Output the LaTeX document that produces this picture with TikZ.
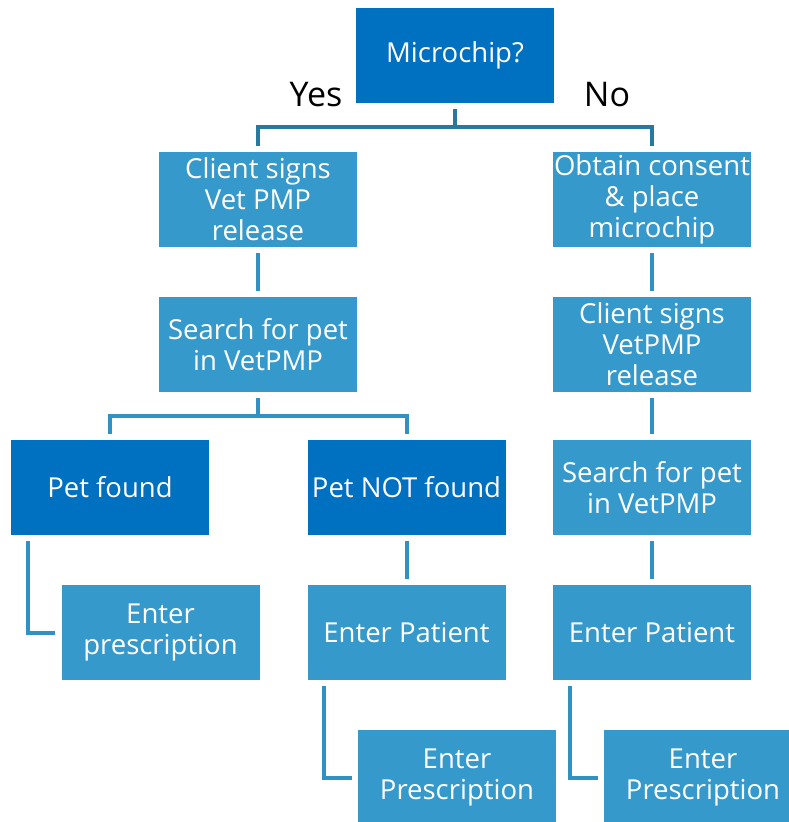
\documentclass[tikz,border=0pt]{standalone}
\usepackage{fontspec}
\setmainfont{Open Sans}
\usepackage{tikz}
\usetikzlibrary{positioning}
\definecolor{chipblue}{RGB}{0,112,192}
\definecolor{stepblue}{RGB}{54,153,204}
\definecolor{linkdark}{RGB}{38,122,160}
\definecolor{linkblue}{RGB}{50,145,195}
\tikzset{
    %Define style for boxes
    darkbox/.style={
           rectangle,
           fill=chipblue,
           text=white,
           minimum width=198pt,
           minimum height=95pt,
           inner sep=0pt,
           font=\fontsize{27.5}{31}\selectfont,
           align=center},
    lightbox/.style={
           darkbox,
           fill=stepblue},
    answer/.style={
           font=\fontsize{34}{36}\selectfont,
           text=black},
    % Define connector style
    link/.style={
           draw=linkblue,
           line width=4pt,
           shorten <=6pt,
           shorten >=6pt}
}
\begin{document}
\begin{tikzpicture}[x=1pt,y=-1pt,node distance=50pt]
\useasboundingbox (0,0) rectangle (788,822);
\node[darkbox](chip) at (455,55.5){Microchip?};
\node[answer](yes) at (316,95){Yes};
\node[answer](no) at (607,95){No};
% Yes branch
\node[lightbox](sign) at (258,199.5){Client signs\\Vet PMP\\release};
\node[lightbox](search) at (258,344.5){Search for pet\\in VetPMP};
\node[darkbox](found) at (110,487.5){Pet found};
\node[darkbox](notfound) at (406.5,487.5){Pet NOT found};
\node[lightbox](rxfound) at (160.5,632.5){Enter\\prescription};
\node[lightbox](patient) at (406.5,632.5){Enter Patient};
\node[lightbox](rxnew) at (457,777.5){Enter\\Prescription};
% No branch
\node[lightbox](consent) at (652,199.5){Obtain consent\\\&{} place\\microchip};
\node[lightbox](signchip) at (652,344.5){Client signs\\VetPMP\\release};
\node[lightbox](searchchip) at (652,487.5){Search for pet\\in VetPMP};
\node[lightbox](patientchip) at (652,632.5){Enter Patient};
\node[lightbox](rxchip) at (703,777.5){Enter\\Prescription};

\path[link]
	(sign) edge (search)
	(notfound) edge (patient)
	(consent) edge (signchip)
	(signchip) edge (searchchip)
	(searchchip) edge (patientchip);
\draw[link, draw=linkdark] (chip.south) -- ++(0,24) -| (sign.north);
\draw[link, draw=linkdark] (chip.south) -- ++(0,24) -| (consent.north);
\draw[link] (search.south) -- ++(0,24) -| (found.north);
\draw[link] (search.south) -- ++(0,24) -| (notfound.north);
\draw[link] ([xshift=17pt]found.south west) |- (rxfound.west);
\draw[link] ([xshift=17pt]patient.south west) |- (rxnew.west);
\draw[link] ([xshift=17pt]patientchip.south west) |- (rxchip.west);
\end{tikzpicture}
\end{document}
